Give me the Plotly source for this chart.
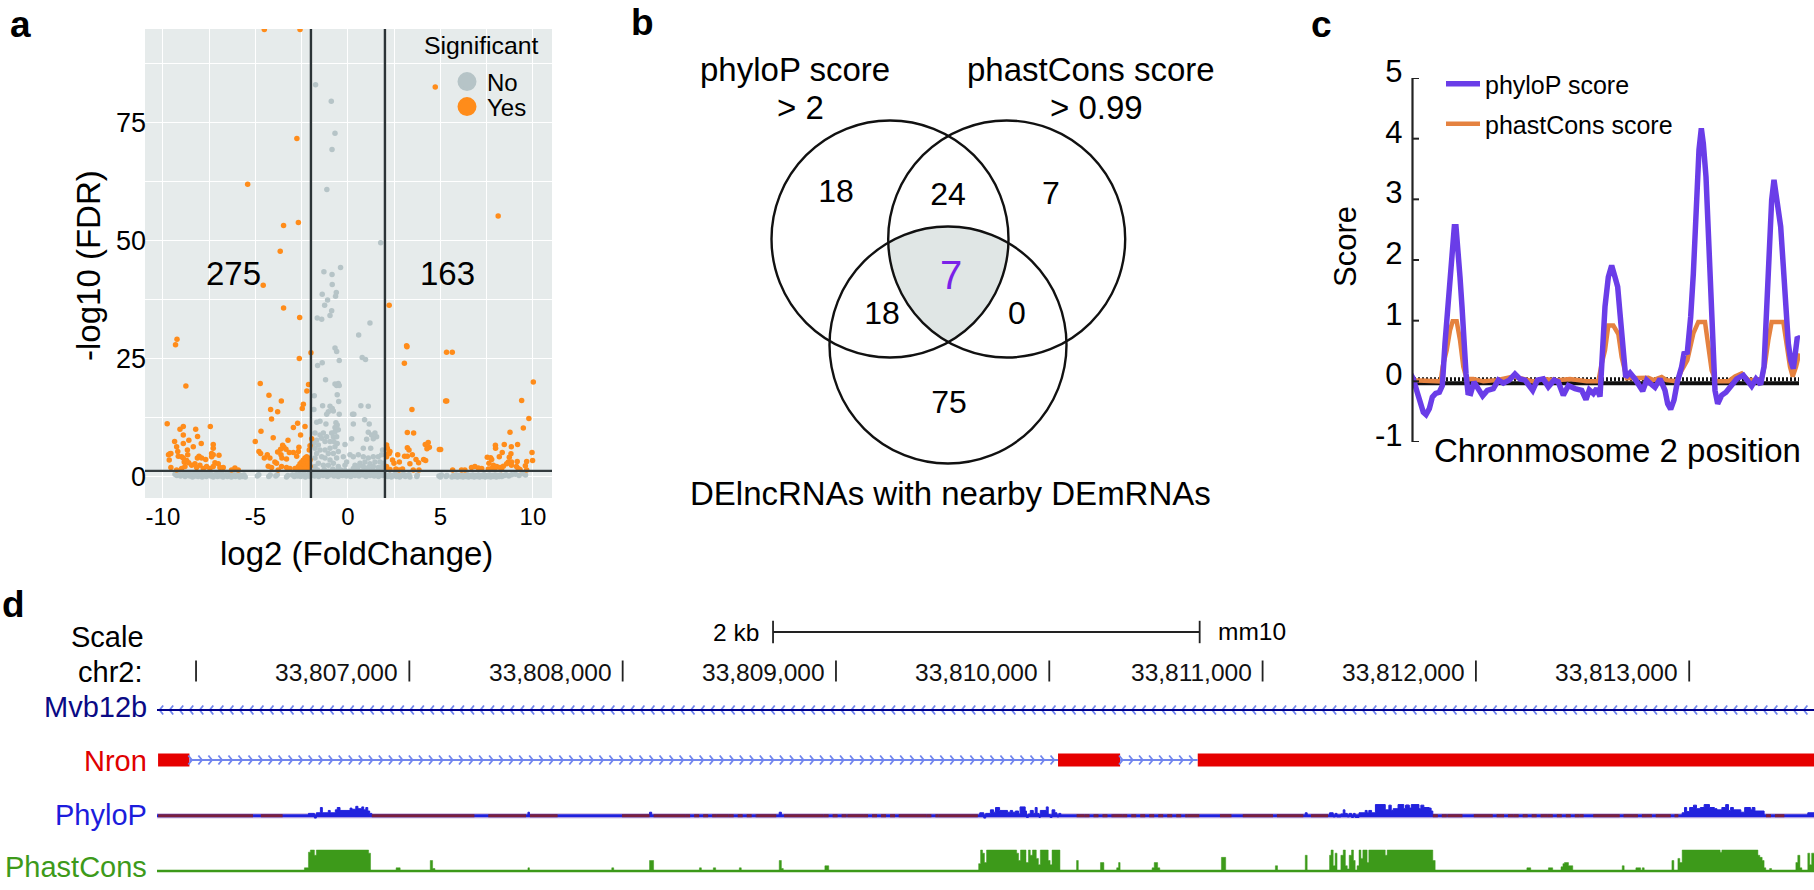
import numpy as np
import plotly.graph_objects as go

W, H = 1814, 890
FONT = "Liberation Sans"

# ---- panel a: volcano, (log2 fold change, -log10 FDR)
nonsig_points = [
    (-1.75, 83.1), (-0.9, 79.6), (-0.7, 72.8), (-0.86, 69.4), (-1.14, 60.9), (1.77, 49.6),
    (-0.4, 44.4), (-1.3, 43.5), (-0.86, 42.9), (-0.85, 40.8), (-0.63, 39.1), (-0.67, 38.3),
    (-1.39, 38.7), (-1.1, 37.5), (-1.26, 36.4), (-0.88, 35.2), (-0.97, 34.2), (-1.66, 33.7),
    (-1.42, 33.4), (1.19, 32.6), (0.58, 30.1), (-0.7, 27.3), (-0.61, 26.6), (0.77, 25.3),
    (0.95, 24.9), (-0.47, 24.7), (-1.39, 24.2), (-1.64, 23.6), (-1.21, 20.6), (-0.7, 19.7),
    (-0.52, 19.8), (-0.61, 19.4), (-0.47, 19.4), (-1.82, 17.2), (-0.58, 17.4), (-0.5, 16.0),
    (-1.37, 15.1), (-0.97, 15.0), (-0.85, 14.5), (0.7, 15.1), (1.1, 15.0), (-1.84, 14.3),
    (-1.06, 13.8), (-0.79, 14.0), (-1.15, 13.3), (0.25, 13.3), (0.32, 13.3), (-0.47, 13.3),
    (0.9, 12.1), (1.15, 11.2), (0.29, 11.2), (-1.69, 11.6), (-1.51, 11.8), (-1.19, 11.2),
    (-0.65, 11.5), (-0.58, 11.0), (-0.7, 10.5), (1.1, 9.5), (1.46, 9.3), (1.28, 8.9),
    (1.55, 8.5), (1.01, 8.0), (1.37, 8.1), (0.2, 8.1), (-0.16, 6.9), (0.83, 6.1), (1.23, 6.1),
    (-1.78, 9.3), (-1.51, 8.9), (-1.33, 9.3), (-1.15, 8.5), (-0.88, 9.3), (-0.7, 9.6),
    (-0.52, 10.0), (-0.79, 8.5), (-0.61, 8.5), (-1.42, 8.2), (-1.69, 7.8), (-1.87, 7.1),
    (-1.6, 6.8), (-1.24, 7.5), (-0.97, 7.5), (-0.76, 7.5), (-0.58, 7.1), (-1.78, 6.1),
    (-1.51, 5.7), (-1.24, 5.7), (-0.97, 6.1), (-0.7, 6.4), (-1.69, 5.0), (-1.42, 4.3),
    (-1.06, 5.0), (-0.79, 5.0), (-0.52, 5.4), (-1.78, 4.0), (-1.24, 4.0), (-0.97, 3.6),
    (-0.61, 4.0), (-1.6, 2.9), (-1.33, 2.5), (-1.06, 2.5), (-0.79, 2.9), (-0.52, 2.2),
    (-1.78, 2.2), (-0.25, 4.3), (-0.07, 3.2), (0.11, 4.7), (0.29, 4.3), (0.56, 4.7),
    (0.83, 4.3), (1.1, 4.0), (1.37, 4.3), (1.64, 4.3), (1.87, 5.7), (1.82, 4.7), (1.73, 3.2),
    (1.91, 2.9), (1.46, 3.2), (1.19, 2.8), (0.92, 3.2), (0.65, 2.9), (0.38, 2.5), (0.56, 2.2),
    (0.83, 2.2), (1.1, 2.0), (1.37, 2.2), (1.64, 2.0), (0.29, 1.8), (-0.16, 2.5), (1.87, 2.2),
]

nonsig_band = [
    (-9.35, .6), (-9.25, .3), (-9.15, .7), (-9.05, .2), (-8.95, .5), (-8.85, .9), (-8.8, .1),
    (-8.7, .4), (-8.62, .8), (-8.55, .2), (-8.48, .5), (-8.4, 0), (-8.32, .6), (-8.25, .2),
    (-8.18, .8), (-8.1, .1), (-8.02, .4), (-7.95, .7), (-7.88, 0), (-7.8, .3), (-7.72, .6),
    (-7.65, .1), (-7.58, .4), (-7.5, .8), (-7.42, .2), (-7.35, .5), (-7.28, 0), (-7.2, .3),
    (-7.12, .6), (-7.05, .1), (-6.98, .5), (-6.9, .2), (-6.82, .7), (-6.75, 0), (-6.68, .3),
    (-6.6, .5), (-6.52, .1), (-6.45, .4), (-6.38, .7), (-6.3, 0), (-6.22, .3), (-6.15, .5),
    (-6.08, .1), (-6, .4), (-5.92, .6), (-5.85, 0), (-5.78, .3), (-5.7, .1), (-5.62, .4),
    (-5.55, 0), (-4.9, .2), (-4.82, .5), (-4.28, .1), (-4.2, .4), (-3.9, .2), (-3.82, .5),
    (-3.32, 0), (-3.25, .3), (-3, .4), (-2.9, .1), (-2.8, .5), (-2.72, .2), (-2.62, .6),
    (-2.55, .1), (-2.45, .4), (-2.38, .7), (-2.3, 0), (-2.22, .3), (-2.12, .6), (-2.05, .1),
    (-1.95, .4), (-1.88, 1.2), (-1.8, .2), (-1.72, .8), (-1.65, 1.5), (-1.58, .1), (-1.5, .6),
    (-1.42, 1.1), (-1.35, .3), (-1.28, 1.6), (-1.2, .7), (-1.12, .1), (-1.05, 1.2), (-.98, .4),
    (-.9, .9), (-.82, 1.7), (-.75, .2), (-.68, .6), (-.6, 1.3), (-.52, .1), (-.45, .8),
    (-.38, 1.5), (-.3, .3), (-.22, .9), (-.15, 1.4), (-.08, .2), (0, .7), (.08, 1.2), (.15, .1),
    (.22, .6), (.3, 1.4), (.38, .3), (.45, .9), (.52, 1.6), (.6, .2), (.68, .7), (.75, 1.2),
    (.82, .4), (.9, 1.5), (.98, .1), (1.05, .8), (1.12, 1.3), (1.2, .3), (1.28, .9), (1.35, 1.5),
    (1.42, .2), (1.5, .7), (1.58, 1.2), (1.65, .1), (1.72, .6), (1.8, 1.4), (1.88, .3), (1.95, .8),
    (2.05, .3), (2.15, .1), (2.25, .5), (2.35, 0), (2.45, .3), (2.55, .6), (2.62, .1), (2.72, .4),
    (2.8, 0), (2.9, .3), (3, .6), (3.1, .1), (3.18, .3), (3.3, .5), (3.35, 0), (3.72, .1),
    (3.75, .4), (4.92, .2), (5.0, 0), (5.05, .4), (5.3, .1), (5.35, .3), (5.62, 0), (5.7, .3),
    (5.78, .1), (5.85, .4), (5.92, 0), (6, .3), (6.08, .1), (6.15, .4), (6.22, 0), (6.3, .3),
    (6.38, .1), (6.45, .5), (6.52, 0), (6.6, .3), (6.68, .1), (6.75, .4), (6.82, 0), (6.9, .3),
    (6.98, .1), (7.05, .4), (7.12, 0), (7.2, .3), (7.28, .1), (7.35, .5), (7.42, 0), (7.5, .3),
    (7.58, .1), (7.65, .4), (7.72, 0), (7.8, .3), (7.88, .1), (7.95, .4), (8.02, 0), (8.1, .3),
    (8.18, .1), (8.25, .4), (8.32, .1), (8.45, .3), (8.55, .5), (8.7, .2), (8.85, .5), (9.05, .6),
    (9.25, .3), (9.45, .7), (9.6, .4),
]

sig_points = [
    (-4.52, 94.8), (-2.59, 94.8), (4.72, 82.6), (-2.76, 71.7), (-5.42, 62.0), (-3.48, 53.3),
    (-2.68, 53.9), (-3.66, 47.8), (8.12, 55.3), (-4.58, 40.6), (-3.48, 35.8), (-2.61, 33.8),
    (-9.24, 29.2), (-9.32, 28.0), (-2.63, 25.1), (-2.0, 26.3), (-8.76, 19.3), (-4.74, 19.8),
    (-4.27, 17.3), (-3.6, 16.1), (-2.13, 19.6), (-2.22, 18.2), (-2.41, 15.4), (-2.47, 14.5),
    (-4.18, 14.3), (-3.8, 13.8), (-4.13, 12.3), (-2.72, 11.4), (-2.95, 10.5), (-2.32, 10.7),
    (-4.7, 9.7), (-4.04, 8.3), (-2.56, 8.9), (-5.01, 7.5), (-3.24, 7.8), (-1.96, 8.1),
    (-3.53, 6.7), (-3.46, 6.3), (-3.64, 5.9), (-3.35, 5.9), (-2.05, 6.6), (-2.09, 5.7),
    (-2.65, 6.3), (-2.68, 5.4), (-2.95, 5.2), (-3.17, 5.2), (-4.81, 5.4), (-4.72, 5.0),
    (-4.36, 4.7), (-4.52, 4.0), (-4.22, 4.0), (-3.62, 4.7), (-3.8, 5.3), (-3.57, 4.0),
    (-3.32, 3.8), (-3.95, 3.2), (-3.86, 2.9), (-4.31, 2.3), (-4.13, 2.0), (-3.77, 1.5),
    (-3.59, 2.2), (-3.32, 2.0), (-3.14, 1.8), (-2.77, 4.4), (-2.86, 1.8),
    (-2.23, 4.3), (-2.32, 4.0), (-2.41, 3.6), (-2.14, 4.0), (-2.5, 3.2), (-2.27, 3.2),
    (-2.05, 3.6), (-2.59, 2.8), (-2.38, 2.8), (-2.14, 2.9), (-2.68, 2.2), (-2.45, 2.2),
    (-2.23, 2.2), (-2.05, 2.3), (-2.77, 1.8), (-2.54, 1.8), (-2.32, 1.8), (-2.11, 1.8),
    (-9.77, 11.3), (-9.37, 7.5), (-8.9, 10.7), (-9.08, 10.1), (-8.23, 10.1), (-7.44, 10.7),
    (-8.9, 8.9), (-8.13, 8.6), (-8.6, 7.8), (-8.9, 7.1), (-7.93, 7.1), (-9.26, 6.4),
    (-8.36, 6.4), (-7.28, 6.9), (-7.28, 6.1), (-9.7, 4.7), (-9.62, 4.9), (-9.57, 5.0),
    (-9.2, 5.4), (-9.17, 4.4), (-8.99, 4.3), (-8.68, 5.7), (-8.66, 4.7), (-9.66, 3.6),
    (-8.9, 4.0), (-8.85, 3.2), (-8.72, 3.5), (-8.61, 3.0), (-9.57, 2.0), (-8.05, 4.4),
    (-8.14, 4.0), (-7.91, 4.0), (-7.69, 3.7), (-7.37, 5.0), (-7.37, 4.3), (-7.28, 4.7),
    (-6.97, 4.6), (-7.19, 3.0), (-7.01, 2.8), (-6.74, 2.0), (-8.27, 2.8), (-8.0, 2.5),
    (-8.18, 2.0), (-7.64, 2.2), (-7.46, 1.8), (-8.99, 1.8), (-8.81, 2.2), (-9.26, 1.5),
    (-6.11, 1.9), (-6.29, 1.5), (-5.93, 1.5), (-7.28, 2.2), (-6.92, 2.0), (-8.45, 2.5),
    (-7.82, 1.8),
    (2.23, 36.4), (3.17, 27.8), (3.19, 27.6), (3.05, 24.1), (5.33, 26.4), (5.64, 26.4),
    (10.02, 20.1), (5.28, 16.1), (5.34, 16.1), (9.39, 16.2), (3.46, 14.3), (9.78, 12.4),
    (9.48, 10.4), (3.21, 9.4), (3.55, 9.3), (8.76, 9.5), (4.34, 7.3), (4.18, 6.9), (4.4, 6.3),
    (4.27, 6.0), (9.17, 6.9), (8.45, 6.9), (7.97, 6.7), (7.98, 6.1), (8.83, 6.4), (3.21, 6.2),
    (3.3, 5.7), (4.94, 5.8), (5.01, 5.8), (2.23, 5.0), (2.69, 4.7), (3.48, 4.7), (8.34, 5.2),
    (8.81, 4.9), (9.95, 5.2), (8.18, 4.3), (8.72, 4.2), (3.06, 4.4), (3.21, 4.4), (3.68, 3.7),
    (4.09, 3.7), (4.2, 3.5), (2.41, 3.6), (2.78, 3.2), (2.49, 2.9), (3.82, 3.0), (3.35, 2.8),
    (7.53, 4.2), (7.71, 4.1), (7.62, 2.9), (7.77, 3.7), (9.15, 3.3), (9.66, 3.3), (9.98, 3.5),
    (9.59, 2.4), (8.67, 3.2), (8.84, 3.2), (8.58, 2.8), (8.84, 2.5), (9.11, 2.2), (7.86, 2.5),
    (8.04, 2.2), (8.22, 2.0), (8.4, 2.3), (7.59, 1.7), (7.76, 1.8), (8.3, 1.6), (7.95, 1.7),
    (9.2, 1.8), (9.3, 1.6), (9.66, 1.5), (2.59, 1.7), (2.95, 1.7), (3.53, 1.5), (3.84, 1.5),
    (2.27, 1.6), (2.09, 1.8), (2.77, 1.5), (2.09, 6.8), (2.13, 6.1), (2.18, 5.0), (2.27, 5.4),
    (2.09, 4.3), (2.09, 2.2), (5.66, 1.5), (6.14, 1.5), (6.32, 1.5), (6.68, 2.0), (6.86, 2.2),
    (7.05, 1.9), (7.23, 1.8),
]

x_ticks = [-10, -5, 0, 5, 10]
x_tick_text = ["-10", "-5", "0", "5", "10"]
y_ticks = [0, 25, 50, 75]
fc_cutoffs = [-2, 2]
fdr_cutoff = 1.3

# ---- panel b: venn counts
venn_counts = ["18", "24", "7", "18", "0", "75"]
venn_shared = "7"

# ---- panel c: position runs over the plotted window, score
phylop_pos = [30, 40, 50, 60, 70, 78, 88, 97, 107, 118, 127, 135, 145, 152, 158, 163, 168, 174, 180,
              186, 192, 198, 204, 212, 222, 235, 248, 262, 280, 295, 310, 328, 345, 360, 375, 398,
              412, 430, 445, 462, 475, 490, 505, 525, 545, 558, 568, 580, 590, 600, 607, 615, 625,
              635, 645, 653, 660, 668, 677, 690, 705, 728, 740, 752, 765, 780, 795, 803, 812, 822,
              832, 845, 852, 862, 872, 880, 888, 897, 904, 910, 918, 925, 932, 938, 945, 953, 965,
              978, 995, 1010, 1030, 1040, 1055, 1068, 1082, 1092, 1100, 1108, 1115, 1122, 1130,
              1142, 1150, 1158, 1165, 1172, 1180, 1187, 1192, 1198]
phylop_score = [.14, .04, -.15, -.37, -.51, -.55, -.45, -.26, -.2, -.18, -.07, .63, 1.34, 1.72, 2.22,
                2.55, 2.55, 2.22, 1.72, 1.23, .51, .13, -.19, -.2, -.01, -.12, -.24, -.15, -.12, .02,
                -.03, .02, .12, .04, .02, -.15, .02, .04, -.09, .02, -.01, -.23, -.07, -.12, -.15,
                -.3, -.14, -.2, -.12, -.25, .51, 1.23, 1.72, 1.91, 1.72, 1.56, 1.12, .62, .07, .14,
                .04, -.16, .02, -.04, -.1, .04, -.15, -.37, -.46, -.31, -.01, .24, .46, .48, 1.06,
                1.77, 2.99, 3.82, 4.17, 3.92, 3.37, 2.33, 1.5, .51, -.15, -.37, -.23, -.18, -.07, .04,
                .1, .02, -.08, .04, -.05, .24, 1.29, 2.33, 2.99, 3.32, 2.99, 2.55, 1.89, 1.17, .62,
                .35, .21, .51, .73, .70]
phast_c_pos = [30, 122, 128, 140, 150, 158, 170, 180, 190, 200, 220, 250, 290, 340, 400, 430, 470,
               510, 560, 595, 605, 615, 625, 640, 655, 665, 680, 720, 745, 760, 785, 800, 830, 845,
               862, 880, 895, 915, 925, 935, 948, 985, 1005, 1025, 1045, 1065, 1085, 1095, 1105,
               1115, 1150, 1160, 1170, 1178, 1188, 1198]
phast_c_score = [.02, 0, .24, .51, .84, .99, .99, .68, .24, .04, .04, 0, .02, .08, 0, .04, .02, .04,
                 0, 0, .29, .51, .92, .92, .78, .4, .05, .06, .06, .02, .07, .02, 0, .18, .35, .79,
                 .98, .98, .62, .18, 0, 0, .08, .13, .02, .02, .04, .29, .68, .98, .98, .62, .24,
                 .08, .24, .46]
baseline_pos = [30, 1197]
baseline_low = [-.03, -.03]
baseline_high = [.035, .035]
score_ticks = [-1, 0, 1, 2, 3, 4, 5]
score_tick_text = ["-1", "0", "1", "2", "3", "4", "5"]

# ---- panel d: offsets in bp from the first ruler mark on chr2
CHR_ORIGIN = 33806000
ruler_marks = [0, 1000, 2000, 3000, 4000, 5000, 6000, 7000]
ruler_labels = ["", "33,807,000", "33,808,000", "33,809,000", "33,810,000", "33,811,000",
                "33,812,000", "33,813,000"]
scalebar = [2705, 4705]
track_span = [-183, 7585]
nron_exon_start = [-178, 4041, 4696]
nron_exon_end = [-31, 4332, 7585]
nron_intron_start = [-31, 4332]
nron_intron_end = [4041, 4696]

phylop_steps = [
    (-183, 0), (527, .2), (555, -.2), (564, .25), (583, .7), (592, .25), (620, .45), (629, .25),
    (653, .5), (662, .7), (675, .45), (722, .65), (731, .55), (749, .8), (759, .6), (777, .75),
    (786, .5), (796, .7), (805, .4), (814, .2), (824, 0), (1556, .3), (1563, 0), (2126, .3),
    (2136, 0), (2734, .3), (2744, 0), (3674, .25), (3693, -.2), (3702, .2), (3724, .5), (3739, .3),
    (3748, .7), (3767, .45), (3804, .3), (3817, .45), (3828, .3), (3841, .4), (3856, .15),
    (3863, .75), (3887, .4), (3893, -.15), (3902, .15), (3911, .45), (3925, .2), (3934, .7),
    (3943, .2), (3952, -.15), (3958, .45), (3986, .75), (3995, .1), (4004, -.15), (4013, .5),
    (4026, .25), (4036, -.1), (4045, .2), (4054, 0), (5200, .25), (5209, 0), (5314, .25),
    (5331, -.1), (5340, .2), (5349, -.1), (5367, .15), (5378, .5), (5386, .2), (5397, -.1),
    (5406, .2), (5417, -.15), (5426, .2), (5434, -.15), (5452, .25), (5481, .45), (5490, .25),
    (5498, .45), (5511, .25), (5529, .95), (5575, .5), (5592, .9), (5603, .45), (5612, .6),
    (5635, .95), (5662, .6), (5670, .9), (5688, .65), (5697, .95), (5733, .6), (5742, .9),
    (5756, .7), (5781, .65), (5790, .4), (5798, 0), (6967, .25), (6978, .7), (6988, .35),
    (7002, .7), (7020, .9), (7034, .6), (7052, .7), (7070, .95), (7095, .7), (7118, .6), (7130, .5),
    (7153, .7), (7171, .95), (7184, .45), (7194, .7), (7207, .5), (7242, .3), (7260, .7), (7287, .5),
    (7295, .7), (7308, .4), (7351, 0), (7556, .25), (7585, .25),
]
phylop_peak_start = [5529, 5639, 5676, 5724]
phylop_peak_end = [5547, 5657, 5685, 5733]
phylop_low_start = [-178, 304, 824, 1370, 1565, 1997, 2145, 2441, 2627, 2757, 3053, 3294, 3480, 4128,
                    4295, 4647, 4800, 4907, 5067, 5227, 5866, 5990, 6097, 6150, 6310, 6488, 6550,
                    6692, 6798, 6843, 6931, 7402]
phylop_low_end = [267, 406, 1305, 1547, 1695, 2126, 2293, 2497, 2720, 2942, 3127, 3424, 3665, 4165,
                  4342, 4703, 4854, 5049, 5191, 5307, 5937, 6079, 6132, 6177, 6337, 6505, 6674, 6736,
                  6825, 6914, 6949, 7446]
phylop_mixed_start = [2293, 2497, 2942, 3127, 3424, 4165, 4342, 5798, 6177, 6337, 6736, 7360]
phylop_mixed_end = [2441, 2627, 3053, 3294, 3480, 4295, 4647, 5866, 6310, 6488, 6798, 7402]

phast_steps = [
    (-183, 0), (508, .15), (527, .9), (536, 1), (555, .75), (564, 1), (809, .85), (818, 0),
    (938, .15), (957, 0), (1098, .5), (1109, .12), (1120, 0), (1556, .15), (1563, 0), (1949, .15),
    (1958, 0), (2126, .5), (2145, 0), (2360, .15), (2369, 0), (2425, .15), (2436, 0), (2547, .15),
    (2556, 0), (2734, .5), (2744, .12), (2753, 0), (2948, .25), (2966, 0), (3669, .35), (3678, 1),
    (3687, .85), (3696, .4), (3706, 1), (3847, .85), (3856, .5), (3865, 1), (3891, .4), (3902, 1),
    (3911, .75), (3921, 1), (3939, .6), (3949, .3), (3958, 1), (3995, .5), (4004, .3), (4013, 1),
    (4050, 0), (4128, .5), (4136, 0), (4240, .4), (4256, 0), (4316, .15), (4325, .4), (4332, 0),
    (4482, .15), (4492, .4), (4508, .15), (4518, 0), (4807, .65), (4827, 0), (5060, .25), (5070, 0),
    (5200, .75), (5209, 0), (5314, .75), (5321, 1), (5331, .25), (5340, .85), (5349, 0), (5367, .75),
    (5378, 1), (5388, .25), (5397, .1), (5406, .75), (5417, 1), (5426, .5), (5434, 0), (5443, .25),
    (5452, 1), (5461, .6), (5470, 1), (5490, .4), (5498, 1), (5575, .75), (5584, 1), (5798, .5),
    (5809, 0), (6239, .15), (6257, 0), (6340, .15), (6360, 0), (6399, .2), (6408, .35), (6415, .4),
    (6434, .25), (6454, 0), (6686, .25), (6695, 0), (6750, .15), (6772, 0), (6780, .15), (6789, 0),
    (6919, .5), (6928, 0), (6947, .6), (6956, .4), (6967, 1), (7145, .9), (7153, 1), (7322, .75),
    (7331, .65), (7342, .5), (7351, .15), (7359, 0), (7377, .12), (7386, 0), (7500, .4), (7509, .75),
    (7519, .15), (7528, 0), (7556, .85), (7565, .3), (7574, .85), (7585, .85),
]

# ---- layout helpers, everything is placed in page pixels
def xdom(left, right):
    return [left / W, right / W]

def ydom(top, bottom):
    return [1 - bottom / H, 1 - top / H]

def label(text, x, y, size, color="black", anchor="center", angle=0, bold=False):
    return dict(text=f"<b>{text}</b>" if bold else text, x=x / W, y=1 - y / H, xref="paper", yref="paper",
                xanchor=anchor, yanchor="middle", showarrow=False, textangle=angle,
                font=dict(family=FONT, size=size, color=color))

def chevrons(start, end, row, direction, step=47, depth=17, arm=4.5):
    xs, ys = [], []
    for p in np.arange(start + 12, end - 12, step):
        xs += [p - direction * depth, p, p - direction * depth, None]
        ys += [row - arm, row, row + arm, None]
    return [CHR_ORIGIN + v if v is not None else None for v in xs], ys

def steps(pairs):
    pos, val = zip(*pairs)
    return [CHR_ORIGIN + p for p in pos], list(val)

def segments(starts, ends):
    xs, ys = [], []
    for s, e in zip(starts, ends):
        xs += [CHR_ORIGIN + s, CHR_ORIGIN + e, None]
        ys += [0, 0, None]
    return xs, ys

fig = go.Figure()

# panel a
GRAY, ORANGE = "#b6c4c7", "#ff8c1a"
for pts, col in [(nonsig_band + nonsig_points, GRAY), (sig_points, ORANGE)]:
    fig.add_trace(go.Scatter(x=[p[0] for p in pts], y=[p[1] for p in pts], mode="markers",
                             marker=dict(size=5.5, color=col), showlegend=False, xaxis="x", yaxis="y"))
for name, col, leg in [("No", GRAY, "legend"), ("Yes", ORANGE, "legend4")]:
    fig.add_trace(go.Scatter(x=[None], y=[None], mode="markers", name=name, legend=leg, showlegend=True,
                             marker=dict(size=16, color=col, line=dict(width=3, color=col)),
                             xaxis="x", yaxis="y"))

# panel b
venn_cx = [890, 1006.7, 948]
venn_cy = [239, 239, 345]
venn_r = 118.5
t = np.linspace(0, 2 * np.pi, 1441)
shared = []
for i in range(3):
    bx = venn_cx[i] + venn_r * np.cos(t)
    by = venn_cy[i] + venn_r * np.sin(t)
    keep = np.ones_like(t, dtype=bool)
    for j in range(3):
        if j != i:
            keep &= (bx - venn_cx[j]) ** 2 + (by - venn_cy[j]) ** 2 <= venn_r ** 2 + 1e-6
    shared += list(zip(bx[keep], by[keep]))
mid_x, mid_y = np.mean(venn_cx), np.mean(venn_cy)
shared.sort(key=lambda p: np.arctan2(p[1] - mid_y, p[0] - mid_x))
fig.add_trace(go.Scatter(x=[p[0] for p in shared], y=[p[1] for p in shared], mode="lines", fill="toself",
                         fillcolor="#e0e6e5", line=dict(width=0), showlegend=False, xaxis="x2", yaxis="y2"))
fig.add_trace(go.Scatter(x=[836, 948, 1051, 882, 1017, 949], y=[194, 197, 196, 316, 316, 405], mode="text",
                         text=venn_counts, textfont=dict(family=FONT, size=32, color="black"),
                         showlegend=False, xaxis="x2", yaxis="y2"))
fig.add_trace(go.Scatter(x=[951], y=[279], mode="text", text=[venn_shared],
                         textfont=dict(family=FONT, size=40, color="#7a22e8"),
                         showlegend=False, xaxis="x2", yaxis="y2"))

# panel c
fig.add_trace(go.Scatter(x=baseline_pos, y=baseline_low, mode="lines", line=dict(color="#111111", width=4),
                         showlegend=False, xaxis="x3", yaxis="y3", cliponaxis=False))
fig.add_trace(go.Scatter(x=baseline_pos, y=baseline_high, mode="lines",
                         line=dict(color="#111111", width=4, dash="2px,2px"),
                         showlegend=False, xaxis="x3", yaxis="y3", cliponaxis=False))
fig.add_trace(go.Scatter(x=phast_c_pos, y=phast_c_score, mode="lines", name="phastCons score", legend="legend3",
                         line=dict(color="#e58240", width=4.5), xaxis="x3", yaxis="y3", cliponaxis=False))
fig.add_trace(go.Scatter(x=phylop_pos, y=phylop_score, mode="lines", name="phyloP score", legend="legend2",
                         line=dict(color="#6a3de8", width=5.5), xaxis="x3", yaxis="y3", cliponaxis=False))

# panel d: ruler and gene rows, y axis y4 counts page pixels
ROW_SCALE, ROW_RULER, ROW_MVB, ROW_NRON = 632, 671, 710, 760
track_ends = [CHR_ORIGIN + v for v in track_span]
fig.add_trace(go.Scatter(x=[CHR_ORIGIN + v for v in ruler_marks], y=[ROW_RULER] * len(ruler_marks), mode="markers",
                         marker=dict(symbol="line-ns", size=15, line=dict(width=1.8, color="#222222")),
                         showlegend=False, xaxis="x4", yaxis="y4"))
fig.add_trace(go.Scatter(x=[CHR_ORIGIN + v for v in scalebar], y=[ROW_SCALE] * 2, mode="lines+markers",
                         line=dict(color="#222222", width=1.8),
                         marker=dict(symbol="line-ns", size=16, line=dict(width=1.8, color="#222222")),
                         showlegend=False, xaxis="x4", yaxis="y4"))
CHEVRON = "#7185ee"
cx, cy = chevrons(track_span[0], track_span[1], ROW_MVB, -1)
fig.add_trace(go.Scatter(x=cx, y=cy, mode="lines", line=dict(color=CHEVRON, width=1.8),
                         showlegend=False, xaxis="x4", yaxis="y4"))
fig.add_trace(go.Scatter(x=track_ends, y=[ROW_MVB] * 2, mode="lines", line=dict(color="#00008b", width=2),
                         showlegend=False, xaxis="x4", yaxis="y4"))
for s, e in zip(nron_intron_start, nron_intron_end):
    cx, cy = chevrons(s, e, ROW_NRON, 1)
    fig.add_trace(go.Scatter(x=cx, y=cy, mode="lines", line=dict(color=CHEVRON, width=1.8),
                             showlegend=False, xaxis="x4", yaxis="y4"))
    fig.add_trace(go.Scatter(x=[CHR_ORIGIN + s, CHR_ORIGIN + e], y=[ROW_NRON] * 2, mode="lines",
                             line=dict(color=CHEVRON, width=2), showlegend=False, xaxis="x4", yaxis="y4"))
fig.add_trace(go.Bar(y=[ROW_NRON] * 3, x=[e - s for s, e in zip(nron_exon_start, nron_exon_end)],
                     base=[CHR_ORIGIN + s for s in nron_exon_start], orientation="h", width=13,
                     marker=dict(color="#e60000", line=dict(width=0)), showlegend=False, xaxis="x4", yaxis="y4"))

# PhyloP wiggle
BLUE, MAROON = "#2222dd", "#7a1f3d"
fig.add_trace(go.Scatter(x=track_ends, y=[0, 0], mode="lines", line=dict(color="#d8c6e6", width=5.5),
                         showlegend=False, xaxis="x5", yaxis="y5"))
fig.add_trace(go.Scatter(x=track_ends, y=[0, 0], mode="lines", line=dict(color=BLUE, width=3),
                         showlegend=False, xaxis="x5", yaxis="y5"))
px_, py_ = steps(phylop_steps)
fig.add_trace(go.Scatter(x=px_, y=py_, mode="lines", line=dict(color=BLUE, width=1, shape="hv"), fill="tozeroy",
                         fillcolor=BLUE, showlegend=False, xaxis="x5", yaxis="y5"))
low_x, low_y = segments(phylop_low_start, phylop_low_end)
fig.add_trace(go.Scatter(x=low_x, y=low_y, mode="lines", line=dict(color=MAROON, width=3),
                         showlegend=False, xaxis="x5", yaxis="y5"))
mix_x, mix_y = segments(phylop_mixed_start, phylop_mixed_end)
fig.add_trace(go.Scatter(x=mix_x, y=mix_y, mode="lines", line=dict(color=MAROON, width=3, dash="5px,4px"),
                         showlegend=False, xaxis="x5", yaxis="y5"))
fig.add_trace(go.Bar(x=[CHR_ORIGIN + (s + e) / 2 for s, e in zip(phylop_peak_start, phylop_peak_end)],
                     y=[.45] * 4, base=[.5] * 4, width=[e - s for s, e in zip(phylop_peak_start, phylop_peak_end)],
                     marker=dict(color="#9a3de0", line=dict(width=0)), showlegend=False, xaxis="x5", yaxis="y5"))

# PhastCons wiggle
GREEN = "#3d9a1a"
fig.add_trace(go.Scatter(x=track_ends, y=[0, 0], mode="lines", line=dict(color=GREEN, width=2.5),
                         showlegend=False, xaxis="x6", yaxis="y6"))
px_, py_ = steps(phast_steps)
fig.add_trace(go.Scatter(x=px_, y=py_, mode="lines", line=dict(color=GREEN, width=.5, shape="hv"), fill="tozeroy",
                         fillcolor=GREEN, showlegend=False, xaxis="x6", yaxis="y6"))

# axes
hidden = dict(visible=False, showgrid=False, zeroline=False, fixedrange=True)
layout = dict(
    width=W, height=H, margin=dict(l=0, r=0, t=0, b=0, autoexpand=False),
    paper_bgcolor="white", plot_bgcolor="white", barmode="overlay",
    font=dict(family=FONT, color="black"), hovermode=False,
    xaxis=dict(domain=xdom(145, 552), range=[-10.97, 11.03], tickmode="array", tickvals=x_ticks,
               ticktext=x_tick_text, zeroline=False, gridcolor="white", gridwidth=1.3, ticks="", ticklen=0,
               tickfont=dict(size=24), ticklabelstandoff=2, minor=dict(tickvals=[-7.5, -2.5, 2.5, 7.5], showgrid=True,
                                                                       gridcolor="white", gridwidth=1)),
    yaxis=dict(domain=ydom(29, 498), range=[-4.45, 94.9], tickvals=y_ticks, zeroline=False,
               gridcolor="white", gridwidth=1.3, ticks="", ticklen=0, ticklabelstandoff=-2,
               tickfont=dict(size=27), minor=dict(tickvals=[12.5, 37.5, 62.5, 87.5], showgrid=True,
                                                  gridcolor="white", gridwidth=1)),
    xaxis2=dict(domain=xdom(620, 1240), range=[620, 1240], **hidden),
    yaxis2=dict(domain=ydom(100, 520), range=[520, 100], **hidden),
    xaxis3=dict(domain=xdom(1412.5, 1800), range=[37.5, 1200], **hidden),
    yaxis3=dict(domain=ydom(78, 442), range=[-1, 5], anchor="x3", showgrid=False, zeroline=False, showline=False,
                ticks="", tickmode="array", tickvals=score_ticks, ticktext=score_tick_text,
                tickfont=dict(size=31), ticklabelstandoff=9, ticklabelshift=-7),
    xaxis4=dict(domain=xdom(157, W), range=track_ends, **hidden),
    yaxis4=dict(domain=ydom(620, 780), range=[780, 620], **hidden),
    xaxis5=dict(domain=xdom(157, W), range=track_ends, **hidden),
    yaxis5=dict(domain=ydom(800, 825), range=[-0.79, 1.34], **hidden),
    xaxis6=dict(domain=xdom(157, W), range=track_ends, **hidden),
    yaxis6=dict(domain=ydom(845, 880), range=[-0.43, 1.24], **hidden),
)
legend_base = dict(bgcolor="rgba(0,0,0,0)", borderwidth=0, yanchor="middle", xanchor="left")
layout["legend"] = dict(x=447 / W, y=1 - 82 / H, font=dict(size=24), **legend_base)
layout["legend4"] = dict(x=447 / W, y=1 - 107 / H, font=dict(size=24), **legend_base)
layout["legend2"] = dict(x=1441 / W, y=1 - 84 / H, font=dict(size=25), itemwidth=34, **legend_base)
layout["legend3"] = dict(x=1441 / W, y=1 - 124 / H, font=dict(size=25), itemwidth=34, **legend_base)
fig.update_layout(**layout)

# panel a background, cut-off lines and venn circles
fig.add_shape(type="rect", xref="x", yref="y", x0=-10.97, x1=11.03, y0=-4.45, y1=94.9, layer="below",
              fillcolor="#e6ebeb", line=dict(width=0))
for v in fc_cutoffs:
    fig.add_shape(type="line", xref="x", yref="y", x0=v, x1=v, y0=-4.45, y1=94.9,
                  line=dict(color="#2b3336", width=2.4))
fig.add_shape(type="line", xref="x", yref="y", x0=-10.97, x1=11.03, y0=fdr_cutoff, y1=fdr_cutoff,
              line=dict(color="#333b3e", width=2.4))
for cx_, cy_ in zip(venn_cx, venn_cy):
    fig.add_shape(type="circle", xref="x2", yref="y2", x0=cx_ - venn_r, x1=cx_ + venn_r, y0=cy_ - venn_r,
                  y1=cy_ + venn_r, line=dict(color="#111111", width=2.4))

# panel c axis line and its ticks
fig.add_shape(type="line", xref="paper", yref="y3", x0=1412.5 / W, x1=1412.5 / W, y0=-1, y1=5,
              line=dict(color="#222222", width=2.2))
for v in score_ticks:
    fig.add_shape(type="line", xref="paper", yref="y3", x0=1412.5 / W, x1=1419 / W, y0=v, y1=v,
                  line=dict(color="#222222", width=2))

ann = [
    label("a", 20, 25, 37, bold=True), label("b", 642, 22, 37, bold=True),
    label("c", 1321, 25, 37, bold=True), label("d", 13, 604, 37, bold=True),
    label("log2 (FoldChange)", 356, 553, 33), label("-log10 (FDR)", 88, 266, 33, angle=-90),
    label("Significant", 481, 46, 24.8), label("275", 233, 273, 33), label("163", 447, 273, 33),
    label("phyloP score", 795, 69, 33), label("&gt; 2", 800, 108, 33),
    label("phastCons score", 1091, 69, 33), label("&gt; 0.99", 1096, 108, 33),
    label("DElncRNAs with nearby DEmRNAs", 951, 493, 33),
    label("Score", 1345, 247, 31, angle=-90), label("Chronmosome 2 position", 1617, 451, 33),
    label("Scale", 146, 637, 29, anchor="right"), label("chr2:", 144, 672, 29, anchor="right"),
    label("2 kb", 736, 632, 24.5), label("mm10", 1216, 631, 24.5, anchor="left"),
    label("Mvb12b", 149, 707, 29, color="#0a0a85", anchor="right"),
    label("Nron", 149, 761, 29, color="#e00000", anchor="right"),
    label("PhyloP", 149, 815, 29, color="#1c1cdc", anchor="right"),
    label("PhastCons", 149, 867, 29, color=GREEN, anchor="right"),
]
for pos, txt in zip(ruler_marks, ruler_labels):
    if txt:
        ann.append(dict(text=txt, x=CHR_ORIGIN + pos, y=ROW_RULER + 1, xref="x4", yref="y4", xanchor="right",
                        yanchor="middle", xshift=-9, showarrow=False, font=dict(family=FONT, size=24.5, color="#111111")))
fig.update_layout(annotations=ann)

fig.write_html("out.html", post_script="document.body.style.margin='0';", config={"displayModeBar": False})
